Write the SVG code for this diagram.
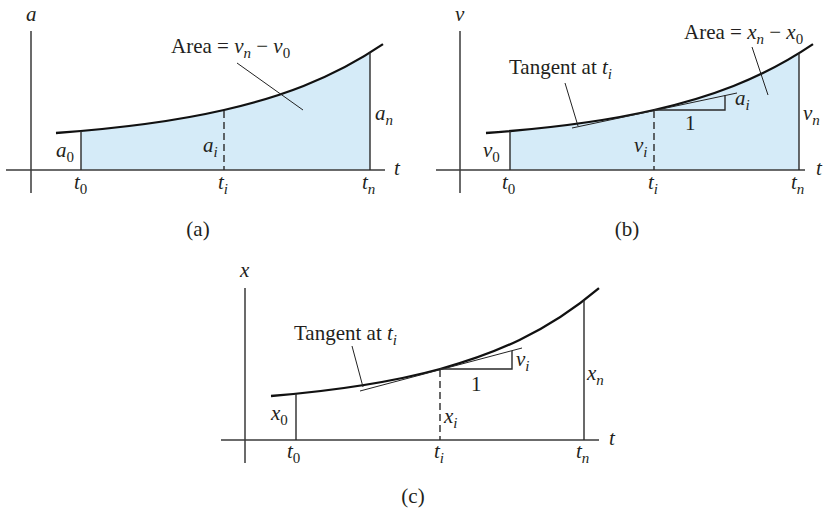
<svg xmlns="http://www.w3.org/2000/svg" width="827" height="510" viewBox="0 0 827 510">
<style>
text{font-family:"Liberation Serif","Times New Roman",serif;font-size:21px;fill:#231f20}
.it{font-style:italic}
.sub{font-size:15px}
.axis{stroke:#3a3a3a;stroke-width:1.5;fill:none}
.curve{stroke:#111;stroke-width:2.3;fill:none}
.vl{stroke:#2a2a2a;stroke-width:1.4;fill:none}
.dash{stroke:#2a2a2a;stroke-width:1.4;stroke-dasharray:7 4;fill:none}
.thin{stroke:#222;stroke-width:1;fill:none}
.fill{fill:#d5ebf8;stroke:none}
.cap{text-anchor:middle}
</style>
<defs>
<clipPath id="clipA"><rect x="81" y="0" width="289" height="170"/></clipPath>
<clipPath id="clipB"><rect x="510" y="0" width="289" height="170"/></clipPath>
</defs>

<g id="panel-a">
<path class="fill" clip-path="url(#clipA)" d="M56,170 L56,133 C112,128.9 168,122.86 224,110 C277,97.83 330,80.05 383,44.17 L383,170 Z"/>
<line class="axis" x1="31" y1="31" x2="31" y2="193"/>
<line class="axis" x1="6" y1="170" x2="385" y2="170"/>
<path class="curve" d="M56,133 C112,128.9 168,122.86 224,110 C277,97.83 330,80.05 383,44.17"/>
<line class="vl" x1="81" y1="131" x2="81" y2="170"/>
<line class="vl" x1="370" y1="52.6" x2="370" y2="170"/>
<line class="dash" x1="224" y1="111" x2="224" y2="170"/>
<text class="it" x="26" y="21">a</text>
<text x="171" y="53">Area = <tspan class="it">v</tspan><tspan class="sub it" dy="5">n</tspan><tspan dy="-5"> − </tspan><tspan class="it">v</tspan><tspan class="sub" dy="5">0</tspan></text>
<text x="56" y="157"><tspan class="it">a</tspan><tspan class="sub" dy="5">0</tspan></text>
<text x="203" y="152"><tspan class="it">a</tspan><tspan class="sub it" dy="5">i</tspan></text>
<text x="375" y="120"><tspan class="it">a</tspan><tspan class="sub it" dy="5">n</tspan></text>
<text x="74" y="189"><tspan class="it">t</tspan><tspan class="sub" dy="5">0</tspan></text>
<text x="218" y="189"><tspan class="it">t</tspan><tspan class="sub it" dy="5">i</tspan></text>
<text x="362" y="189"><tspan class="it">t</tspan><tspan class="sub it" dy="5">n</tspan></text>
<text class="it" x="394" y="175">t</text>
<text class="cap" x="198" y="236">(a)</text>
</g>

<g id="panel-b">
<path class="fill" clip-path="url(#clipB)" d="M486,170 L486,133 C542,128.9 598,122.86 654,110 C707,97.83 760,80.05 813,44.17 L813,170 Z"/>
<line class="axis" x1="460" y1="31" x2="460" y2="193"/>
<line class="axis" x1="436" y1="170" x2="805" y2="170"/>
<path class="curve" d="M486,133 C542,128.9 598,122.86 654,110 C707,97.83 760,80.05 813,44.17"/>
<line class="vl" x1="510" y1="131" x2="510" y2="170"/>
<line class="vl" x1="799" y1="53.3" x2="799" y2="170"/>
<line class="dash" x1="654" y1="111" x2="654" y2="170"/>
<line class="thin" x1="572" y1="128" x2="737" y2="93"/>
<polyline class="vl" points="654,110 725,110 725,95"/>
<text class="it" x="455" y="21">v</text>
<text x="509" y="74">Tangent at <tspan class="it">t</tspan><tspan class="sub it" dy="5">i</tspan></text>
<text x="684" y="39">Area = <tspan class="it">x</tspan><tspan class="sub it" dy="5">n</tspan><tspan dy="-5"> − </tspan><tspan class="it">x</tspan><tspan class="sub" dy="5">0</tspan></text>
<text x="735" y="105"><tspan class="it">a</tspan><tspan class="sub it" dy="5">i</tspan></text>
<text x="685" y="130">1</text>
<text x="634" y="152"><tspan class="it">v</tspan><tspan class="sub it" dy="5">i</tspan></text>
<text x="803" y="120"><tspan class="it">v</tspan><tspan class="sub it" dy="5">n</tspan></text>
<text x="483" y="157"><tspan class="it">v</tspan><tspan class="sub" dy="5">0</tspan></text>
<text x="502" y="189"><tspan class="it">t</tspan><tspan class="sub" dy="5">0</tspan></text>
<text x="648" y="189"><tspan class="it">t</tspan><tspan class="sub it" dy="5">i</tspan></text>
<text x="791" y="189"><tspan class="it">t</tspan><tspan class="sub it" dy="5">n</tspan></text>
<text class="it" x="816" y="175">t</text>
<text class="cap" x="627" y="236">(b)</text>
</g>

<g id="panel-c">
<line class="axis" x1="245" y1="288" x2="245" y2="463"/>
<line class="axis" x1="221" y1="440" x2="599" y2="440"/>
<path class="curve" d="M271,396 C327.3,391.35 383.7,384.43 440,369 C493,354.48 546,333 599,288.1"/>
<line class="vl" x1="296" y1="393.7" x2="296" y2="440"/>
<line class="vl" x1="584" y1="300.2" x2="584" y2="440"/>
<line class="dash" x1="440" y1="370" x2="440" y2="440"/>
<line class="thin" x1="360" y1="391" x2="522" y2="348"/>
<polyline class="vl" points="440,369 512,369 512,351"/>
<text class="it" x="240" y="277">x</text>
<text x="294" y="340">Tangent at <tspan class="it">t</tspan><tspan class="sub it" dy="5">i</tspan></text>
<text x="271" y="420"><tspan class="it">x</tspan><tspan class="sub" dy="5">0</tspan></text>
<text x="444" y="423"><tspan class="it">x</tspan><tspan class="sub it" dy="5">i</tspan></text>
<text x="587" y="380"><tspan class="it">x</tspan><tspan class="sub it" dy="5">n</tspan></text>
<text x="516" y="366"><tspan class="it">v</tspan><tspan class="sub it" dy="5">i</tspan></text>
<text x="471" y="391">1</text>
<text x="287" y="458"><tspan class="it">t</tspan><tspan class="sub" dy="5">0</tspan></text>
<text x="434" y="458"><tspan class="it">t</tspan><tspan class="sub it" dy="5">i</tspan></text>
<text x="576" y="458"><tspan class="it">t</tspan><tspan class="sub it" dy="5">n</tspan></text>
<text class="it" x="609" y="445">t</text>
<text class="cap" x="413" y="503">(c)</text>
</g>

<g id="connectors">
<line class="thin" x1="237" y1="63" x2="303" y2="110"/>
<line class="thin" x1="565" y1="83" x2="578" y2="126"/>
<line class="thin" x1="752" y1="47" x2="768" y2="95"/>
<line class="thin" x1="352" y1="346" x2="363" y2="387"/>
</g>
</svg>
